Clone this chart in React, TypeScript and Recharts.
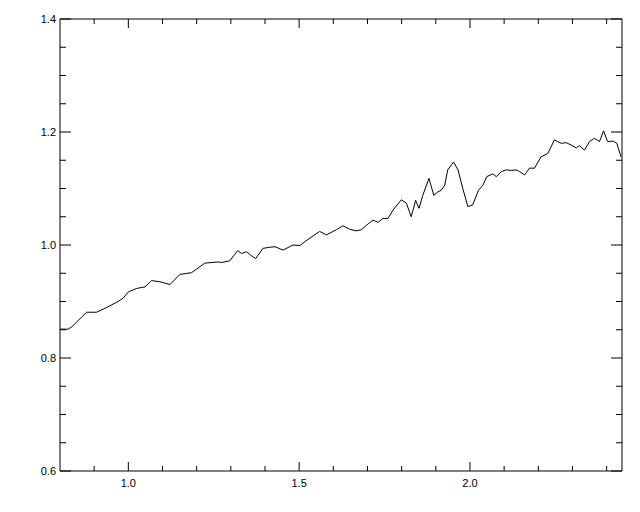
import React from 'react'
import { LineChart, Line, XAxis, YAxis } from 'recharts'

// wavelength (x) and flux (y)
const wavelength = [
  0.8, 0.824, 0.834, 0.878, 0.907, 0.932, 0.97, 0.985, 1.0, 1.024, 1.049, 1.068, 1.092, 1.122,
  1.151, 1.185, 1.224, 1.263, 1.273, 1.297, 1.32, 1.331, 1.346, 1.365, 1.373, 1.394, 1.414, 1.429,
  1.453, 1.482, 1.502, 1.526, 1.56, 1.58, 1.609, 1.628, 1.648, 1.667, 1.682, 1.697, 1.716, 1.731,
  1.745, 1.76, 1.775, 1.799, 1.814, 1.828, 1.841, 1.851, 1.862, 1.88, 1.894, 1.906, 1.916, 1.926,
  1.935, 1.952, 1.965, 1.979, 1.994, 2.008, 2.025, 2.038, 2.049, 2.067, 2.077, 2.092, 2.106, 2.121,
  2.135, 2.145, 2.16, 2.174, 2.189, 2.208, 2.228, 2.247, 2.257, 2.267, 2.282, 2.296, 2.311, 2.32,
  2.335, 2.35, 2.364, 2.379, 2.391, 2.403, 2.418, 2.43, 2.442,
]
const flux = [
  0.851, 0.851, 0.855, 0.881, 0.881, 0.888, 0.9, 0.906, 0.917, 0.923, 0.926, 0.937, 0.935, 0.93,
  0.948, 0.951, 0.968, 0.97, 0.969, 0.972, 0.99, 0.985, 0.988, 0.979, 0.976, 0.994, 0.996, 0.997,
  0.991, 1.0, 0.999, 1.01, 1.024, 1.018, 1.027, 1.034, 1.028, 1.025, 1.027, 1.035, 1.044, 1.04,
  1.047, 1.047, 1.062, 1.08, 1.074, 1.05, 1.079, 1.065, 1.088, 1.118, 1.088, 1.094, 1.097, 1.106,
  1.133, 1.147, 1.133, 1.1, 1.068, 1.071, 1.097, 1.106, 1.121, 1.126, 1.121, 1.13, 1.133, 1.132,
  1.133, 1.13, 1.124, 1.136, 1.136, 1.156, 1.162, 1.186, 1.183, 1.18, 1.181, 1.177, 1.172, 1.176,
  1.168, 1.183, 1.189, 1.183, 1.202, 1.183, 1.184, 1.18, 1.156,
]

const xTicks = [0.9, 1.0, 1.1, 1.2, 1.3, 1.4, 1.5, 1.6, 1.7, 1.8, 1.9, 2.0, 2.1, 2.2, 2.3, 2.4]
const xLabels = [1.0, 1.5, 2.0]
const yTicks = [0.6, 0.65, 0.7, 0.75, 0.8, 0.85, 0.9, 0.95, 1.0, 1.05, 1.1, 1.15, 1.2, 1.25, 1.3, 1.35, 1.4]
const yLabels = [0.6, 0.8, 1.0, 1.2, 1.4]

const data = wavelength.map((w, i) => ({ w, f: flux[i] }))

const isMajor = (v: number, list: number[]) => list.some((m) => Math.abs(m - v) < 1e-6)
const font = { fontFamily: 'Liberation Sans, Arial, sans-serif', fontSize: 11, fill: '#000' }

function BottomTick({ x, y, payload }: any) {
  const major = isMajor(payload.value, xLabels)
  return (
    <g>
      <line x1={x} x2={x} y1={y} y2={y - (major ? 9 : 5)} stroke="#000" />
      {major && (
        <text x={x} y={y + 16} textAnchor="middle" {...font}>
          {payload.value.toFixed(1)}
        </text>
      )}
    </g>
  )
}

function TopTick({ x, y, payload }: any) {
  const major = isMajor(payload.value, xLabels)
  return <line x1={x} x2={x} y1={y} y2={y + (major ? 9 : 5)} stroke="#000" />
}

function LeftTick({ x, y, payload }: any) {
  const major = isMajor(payload.value, yLabels)
  return (
    <g>
      <line x1={x} x2={x + (major ? 11 : 6)} y1={y} y2={y} stroke="#000" />
      {major && (
        <text x={x - 4} y={y + 4} textAnchor="end" {...font}>
          {payload.value.toFixed(1)}
        </text>
      )}
    </g>
  )
}

function RightTick({ x, y, payload }: any) {
  const major = isMajor(payload.value, yLabels)
  return <line x1={x - (major ? 11 : 6)} x2={x} y1={y} y2={y} stroke="#000" />
}

export default function App() {
  return (
    <div style={{ position: 'absolute', left: 0, top: 0, background: '#fff' }}>
      <LineChart width={640} height={512} data={data} margin={{ top: 0, right: 0, bottom: 0, left: 0 }}>
        <XAxis
          xAxisId="bottom"
          dataKey="w"
          type="number"
          domain={[0.8, 2.445]}
          allowDataOverflow
          ticks={xTicks}
          interval={0}
          height={41}
          tickSize={0}
          tickMargin={0}
          tickLine={false}
          axisLine={{ stroke: '#000' }}
          tick={<BottomTick />}
        />
        <XAxis
          xAxisId="top"
          orientation="top"
          dataKey="w"
          type="number"
          domain={[0.8, 2.445]}
          allowDataOverflow
          ticks={xTicks}
          interval={0}
          height={19}
          tickSize={0}
          tickMargin={0}
          tickLine={false}
          axisLine={{ stroke: '#000' }}
          tick={<TopTick />}
        />
        <YAxis
          yAxisId="left"
          type="number"
          domain={[0.6, 1.4]}
          allowDataOverflow
          ticks={yTicks}
          interval={0}
          width={60}
          tickSize={0}
          tickMargin={0}
          tickLine={false}
          axisLine={{ stroke: '#000' }}
          tick={<LeftTick />}
        />
        <YAxis
          yAxisId="right"
          orientation="right"
          type="number"
          domain={[0.6, 1.4]}
          allowDataOverflow
          ticks={yTicks}
          interval={0}
          width={18}
          tickSize={0}
          tickMargin={0}
          tickLine={false}
          axisLine={{ stroke: '#000' }}
          tick={<RightTick />}
        />
        <Line
          xAxisId="bottom"
          yAxisId="left"
          dataKey="f"
          type="linear"
          stroke="#000"
          strokeWidth={1}
          dot={false}
          isAnimationActive={false}
        />
      </LineChart>
    </div>
  )
}
